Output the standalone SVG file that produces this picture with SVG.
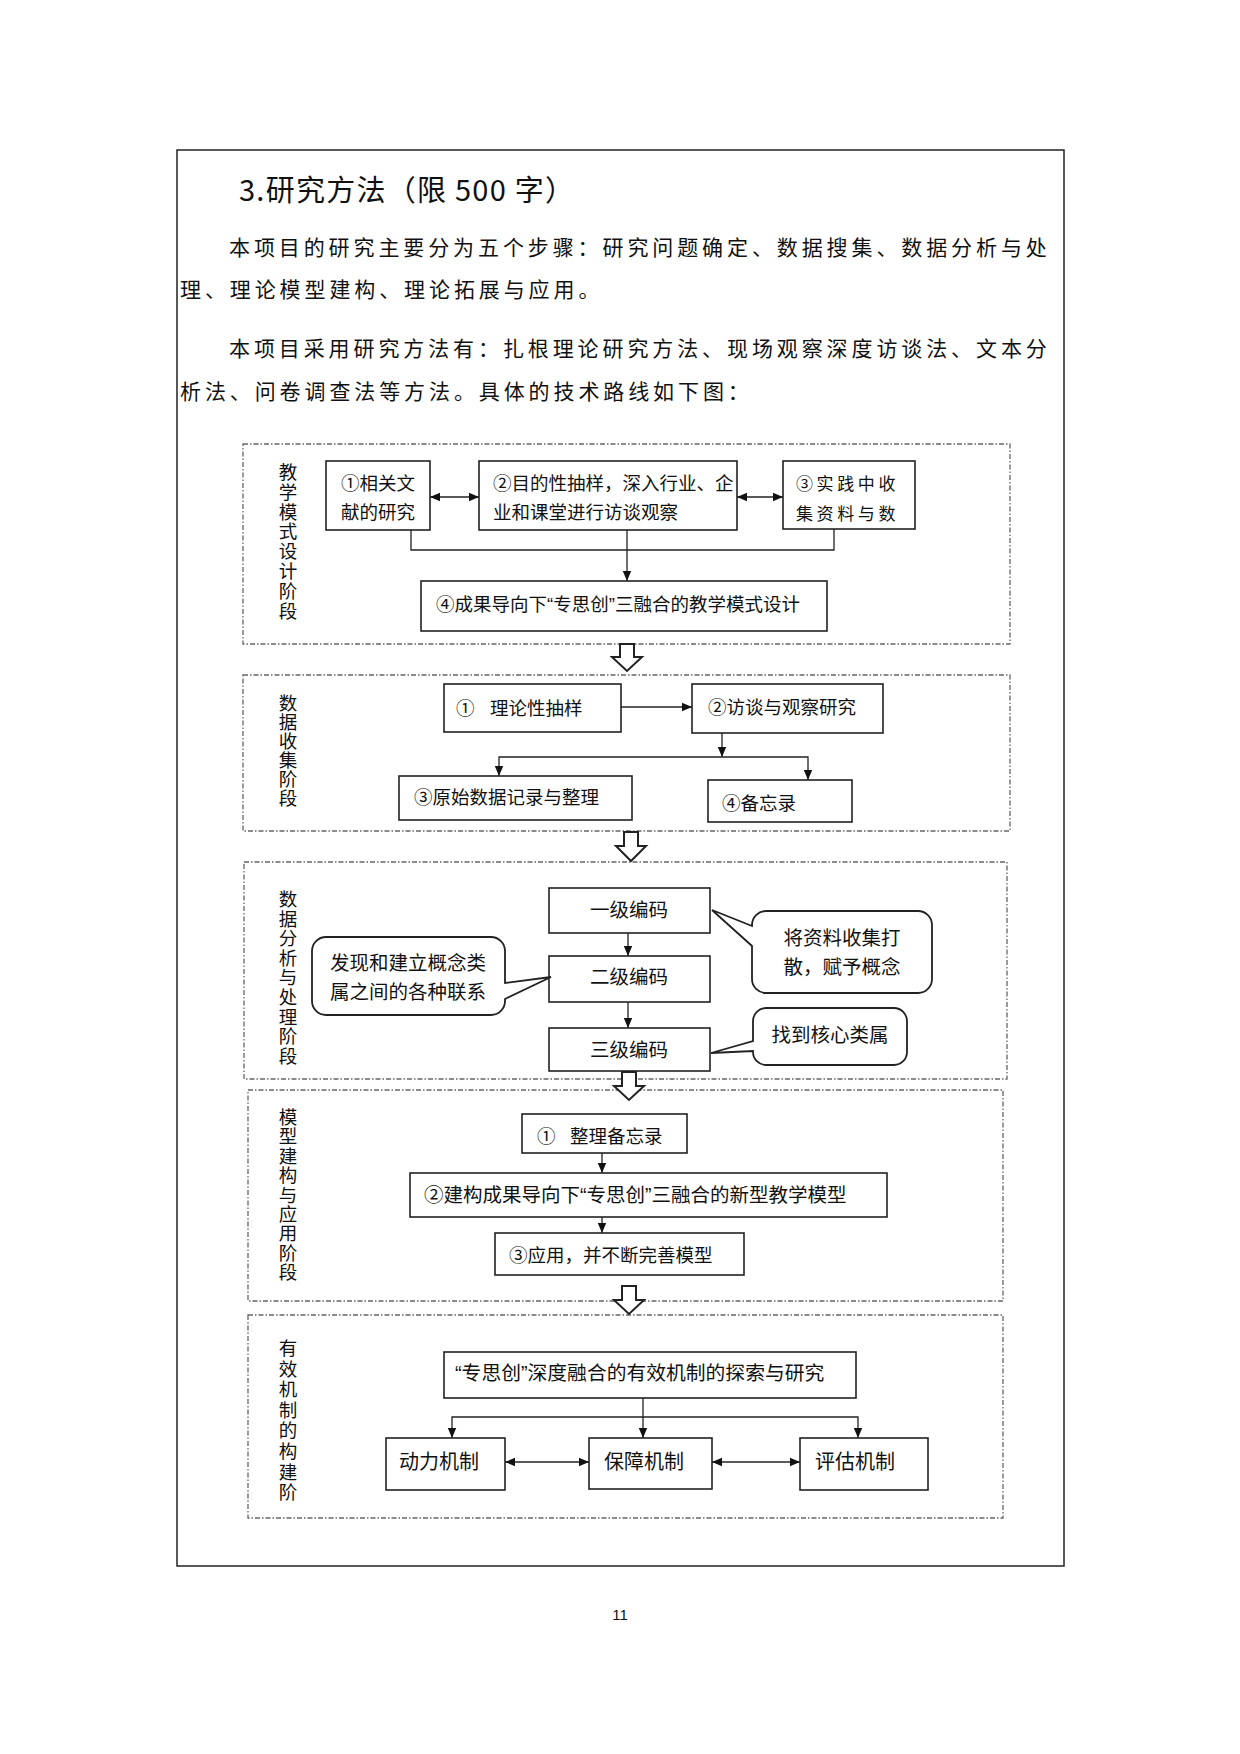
<svg xmlns="http://www.w3.org/2000/svg" width="1240" height="1754" viewBox="0 0 1240 1754">
<defs>
<style>
.t{font-family:"Noto Sans CJK SC","Noto Sans",sans-serif;fill:#111}
.body{font-size:21px;letter-spacing:3.9px}
.title{font-size:29px}
.n{font-size:18.5px}
.q{font-family:"Liberation Sans",sans-serif}
.lbl{font-size:18.5px;text-anchor:middle}
.box{fill:#fff;stroke:#222;stroke-width:1.6}
.call{fill:#fff;stroke:#222;stroke-width:1.8}
.stage{fill:none;stroke:#666;stroke-width:1.3;stroke-dasharray:5 2 1.5 2}
.ln{fill:none;stroke:#222;stroke-width:1.3}
.blk{fill:#fff;stroke:#222;stroke-width:2}
</style>
<marker id="ah" viewBox="0 0 10 10" refX="10" refY="5" markerWidth="10" markerHeight="10" markerUnits="userSpaceOnUse" orient="auto-start-reverse">
<path d="M0,0.8 L10,5 L0,9.2 Z" fill="#111"/>
</marker>
</defs>
<rect width="1240" height="1754" fill="#fff"/>
<rect x="177" y="150" width="887" height="1416" fill="none" stroke="#222" stroke-width="1.5"/>
<g id="header">
<text class="t title" x="239" y="201" textLength="335" lengthAdjust="spacing">3.研究方法（限 500 字）</text>
<text class="t body" x="229" y="255">本项目的研究主要分为五个步骤：研究问题确定、数据搜集、数据分析与处</text>
<text class="t body" x="180" y="297">理、理论模型建构、理论拓展与应用。</text>
<text class="t body" x="229" y="356">本项目采用研究方法有：扎根理论研究方法、现场观察深度访谈法、文本分</text>
<text class="t body" x="180" y="399">析法、问卷调查法等方法。具体的技术路线如下图：</text>
</g>

<g id="stages">
<rect class="stage" x="243" y="444" width="767" height="200"/>
<rect class="stage" x="243" y="675" width="767" height="156"/>
<rect class="stage" x="244" y="862" width="763" height="217"/>
<rect class="stage" x="248" y="1090" width="755" height="211"/>
<rect class="stage" x="248" y="1315" width="755" height="203"/>
<text class="t lbl"><tspan x="288" y="479">教</tspan><tspan x="288" dy="19.8">学</tspan><tspan x="288" dy="19.8">模</tspan><tspan x="288" dy="19.8">式</tspan><tspan x="288" dy="19.8">设</tspan><tspan x="288" dy="19.8">计</tspan><tspan x="288" dy="19.8">阶</tspan><tspan x="288" dy="19.8">段</tspan></text>
<text class="t lbl"><tspan x="288" y="710">数</tspan><tspan x="288" dy="19">据</tspan><tspan x="288" dy="19">收</tspan><tspan x="288" dy="19">集</tspan><tspan x="288" dy="19">阶</tspan><tspan x="288" dy="19">段</tspan></text>
<text class="t lbl"><tspan x="288" y="906">数</tspan><tspan x="288" dy="19.6">据</tspan><tspan x="288" dy="19.6">分</tspan><tspan x="288" dy="19.6">析</tspan><tspan x="288" dy="19.6">与</tspan><tspan x="288" dy="19.6">处</tspan><tspan x="288" dy="19.6">理</tspan><tspan x="288" dy="19.6">阶</tspan><tspan x="288" dy="19.6">段</tspan></text>
<text class="t lbl"><tspan x="288" y="1124">模</tspan><tspan x="288" dy="19.4">型</tspan><tspan x="288" dy="19.4">建</tspan><tspan x="288" dy="19.4">构</tspan><tspan x="288" dy="19.4">与</tspan><tspan x="288" dy="19.4">应</tspan><tspan x="288" dy="19.4">用</tspan><tspan x="288" dy="19.4">阶</tspan><tspan x="288" dy="19.4">段</tspan></text>
<text class="t lbl"><tspan x="288" y="1355">有</tspan><tspan x="288" dy="20.6">效</tspan><tspan x="288" dy="20.6">机</tspan><tspan x="288" dy="20.6">制</tspan><tspan x="288" dy="20.6">的</tspan><tspan x="288" dy="20.6">构</tspan><tspan x="288" dy="20.6">建</tspan><tspan x="288" dy="20.6">阶</tspan></text>
</g>

<g id="connectors">
<line class="ln" x1="430" y1="497" x2="479" y2="497" marker-start="url(#ah)" marker-end="url(#ah)"/>
<line class="ln" x1="737" y1="497" x2="783" y2="497" marker-start="url(#ah)" marker-end="url(#ah)"/>
<polyline class="ln" points="411,530 411,550 834,550 834,529"/>
<line class="ln" x1="627" y1="530" x2="627" y2="581" marker-end="url(#ah)"/>
<line class="ln" x1="621" y1="707" x2="692" y2="707" marker-end="url(#ah)"/>
<line class="ln" x1="722" y1="733" x2="722" y2="757" marker-end="url(#ah)"/>
<polyline class="ln" points="499,776 499,757 808,757 808,780" marker-start="url(#ah)" marker-end="url(#ah)"/>
<line class="ln" x1="628" y1="933" x2="628" y2="956" marker-end="url(#ah)"/>
<line class="ln" x1="628" y1="1002" x2="628" y2="1028" marker-end="url(#ah)"/>
<line class="ln" x1="602" y1="1153" x2="602" y2="1173" marker-end="url(#ah)"/>
<line class="ln" x1="602" y1="1217" x2="602" y2="1233" marker-end="url(#ah)"/>
<line class="ln" x1="643" y1="1398" x2="643" y2="1438" marker-end="url(#ah)"/>
<polyline class="ln" points="452,1438 452,1417 858,1417 858,1438" marker-start="url(#ah)" marker-end="url(#ah)"/>
<line class="ln" x1="505" y1="1462" x2="589" y2="1462" marker-start="url(#ah)" marker-end="url(#ah)"/>
<line class="ln" x1="712" y1="1462" x2="800" y2="1462" marker-start="url(#ah)" marker-end="url(#ah)"/>
<polygon class="blk" points="620,644 634,644 634,657 642,657 627,671 612,657 620,657"/>
<polygon class="blk" points="624,832 638,832 638,846 646,846 631,861 616,846 624,846"/>
<polygon class="blk" points="622,1072 636,1072 636,1086 644,1086 629,1100 614,1086 622,1086"/>
<polygon class="blk" points="622,1286 636,1286 636,1300 644,1300 629,1314 614,1300 622,1300"/>
</g>

<g id="s1-n1"><rect class="box" x="326" y="461" width="104" height="69"/>
<text class="t n" x="378" y="490" text-anchor="middle">①相关文</text>
<text class="t n" x="378" y="519" text-anchor="middle">献的研究</text></g>
<g id="s1-n2"><rect class="box" x="479" y="461" width="258" height="69"/>
<text class="t n" x="493" y="490">②目的性抽样，深入行业、企</text>
<text class="t n" x="493" y="519">业和课堂进行访谈观察</text></g>
<g id="s1-n3"><rect class="box" x="783" y="461" width="132" height="68"/>
<text class="t" x="796" y="490" font-size="17" letter-spacing="3.6">③实践中收</text>
<text class="t" x="796" y="520" font-size="17" letter-spacing="3.6">集资料与数</text></g>
<g id="s1-n4"><rect class="box" x="421" y="581" width="406" height="50"/>
<text class="t n" x="436" y="611">④成果导向下<tspan class="q">“</tspan>专思创<tspan class="q">”</tspan>三融合的教学模式设计</text></g>

<g id="s2-n1"><rect class="box" x="444" y="684" width="177" height="48"/>
<text class="t n" x="456" y="715">①</text><text class="t n" x="490" y="715">理论性抽样</text></g>
<g id="s2-n2"><rect class="box" x="692" y="684" width="191" height="49"/>
<text class="t n" x="708" y="714">②访谈与观察研究</text></g>
<g id="s2-n3"><rect class="box" x="399" y="776" width="233" height="44"/>
<text class="t n" x="414" y="804">③原始数据记录与整理</text></g>
<g id="s2-n4"><rect class="box" x="708" y="780" width="144" height="42"/>
<text class="t n" x="722" y="810">④备忘录</text></g>

<g id="s3-n1"><rect class="box" x="549" y="888" width="161" height="45"/>
<text class="t" x="629" y="917" font-size="19.5" text-anchor="middle">一级编码</text></g>
<g id="s3-n2"><rect class="box" x="549" y="956" width="161" height="46"/>
<text class="t" x="629" y="984" font-size="19.5" text-anchor="middle">二级编码</text></g>
<g id="s3-n3"><rect class="box" x="549" y="1028" width="161" height="43"/>
<text class="t" x="629" y="1057" font-size="19.5" text-anchor="middle">三级编码</text></g>
<g id="s3-c1"><path class="call" d="M766,911 H918 A14,14 0 0 1 932,925 V979 A14,14 0 0 1 918,993 H766 A14,14 0 0 1 752,979 V946 L712,910 L752,926 V925 A14,14 0 0 1 766,911 Z"/>
<text class="t" x="842" y="945" font-size="19.5" text-anchor="middle">将资料收集打</text>
<text class="t" x="842" y="974" font-size="19.5" text-anchor="middle">散，赋予概念</text></g>
<g id="s3-c2"><path class="call" d="M326,937 H491 A14,14 0 0 1 505,951 V983 L551,977 L505,999 V1001 A14,14 0 0 1 491,1015 H326 A14,14 0 0 1 312,1001 V951 A14,14 0 0 1 326,937 Z"/>
<text class="t" x="408" y="970" font-size="19.5" text-anchor="middle">发现和建立概念类</text>
<text class="t" x="408" y="999" font-size="19.5" text-anchor="middle">属之间的各种联系</text></g>
<g id="s3-c3"><path class="call" d="M766,1008 H894 A13,13 0 0 1 907,1021 V1052 A13,13 0 0 1 894,1065 H766 A13,13 0 0 1 753,1052 V1051 L711,1053 L753,1041 V1021 A13,13 0 0 1 766,1008 Z"/>
<text class="t" x="830" y="1042" font-size="19.5" text-anchor="middle">找到核心类属</text></g>

<g id="s4-n1"><rect class="box" x="522" y="1114" width="165" height="39"/>
<text class="t n" x="537" y="1143">①</text><text class="t n" x="570" y="1143">整理备忘录</text></g>
<g id="s4-n2"><rect class="box" x="410" y="1173" width="477" height="44"/>
<text class="t" x="424" y="1202" font-size="19.5">②建构成果导向下<tspan class="q">“</tspan>专思创<tspan class="q">”</tspan>三融合的新型教学模型</text></g>
<g id="s4-n3"><rect class="box" x="495" y="1233" width="249" height="42"/>
<text class="t n" x="509" y="1262">③应用，并不断完善模型</text></g>

<g id="s5-n1"><rect class="box" x="444" y="1352" width="412" height="46"/>
<text class="t" x="455" y="1380" font-size="19.8"><tspan class="q">“</tspan>专思创<tspan class="q">”</tspan>深度融合的有效机制的探索与研究</text></g>
<g id="s5-n2"><rect class="box" x="386" y="1438" width="119" height="52"/>
<text class="t" x="399" y="1469" font-size="20">动力机制</text></g>
<g id="s5-n3"><rect class="box" x="589" y="1438" width="123" height="51"/>
<text class="t" x="604" y="1469" font-size="20">保障机制</text></g>
<g id="s5-n4"><rect class="box" x="800" y="1438" width="128" height="52"/>
<text class="t" x="815" y="1469" font-size="20">评估机制</text></g>

<text x="620" y="1620" font-family="Liberation Sans, sans-serif" font-size="15" text-anchor="middle" fill="#111">11</text>
</svg>
